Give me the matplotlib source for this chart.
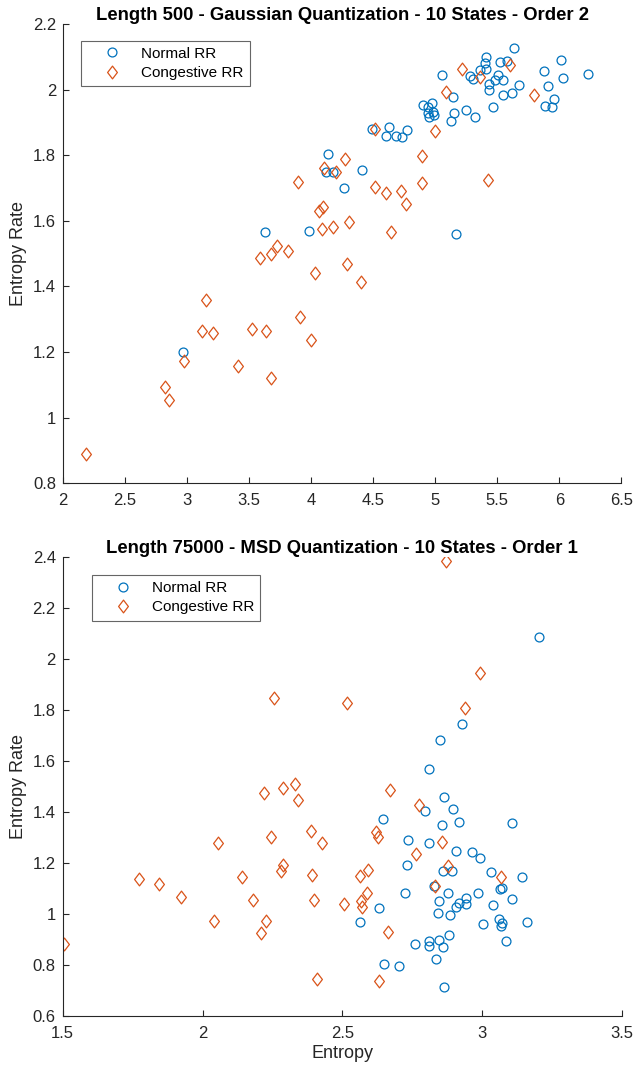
import numpy as np
import matplotlib.pyplot as plt
from matplotlib.path import Path

plt.rcParams['font.family'] = ['Liberation Sans', 'DejaVu Sans']

BLUE = '#0072BD'
ORANGE = '#D95319'

# top panel: Length 500, Gaussian quantization, order 2
top_normal_x = [5.632, 5.406, 5.400, 5.524, 5.578, 5.409, 5.358, 5.052, 5.280, 5.304,
                5.508, 5.481, 5.549, 5.436, 5.433, 5.675, 5.621, 5.549, 5.140, 5.462,
                5.250, 5.148, 5.130, 5.323, 4.901, 4.977, 4.941, 4.979, 4.941, 4.990,
                4.950, 5.874, 6.016, 6.029, 6.230, 5.908, 5.957, 5.882, 5.938, 4.627,
                4.488, 4.606, 4.687, 4.732, 4.772, 4.407, 4.262, 5.164, 4.139, 4.117,
                4.176, 3.631, 3.982, 2.965]
top_normal_y = [2.128, 2.099, 2.080, 2.084, 2.087, 2.063, 2.060, 2.044, 2.042, 2.033,
                2.043, 2.030, 2.030, 2.016, 1.999, 2.013, 1.989, 1.982, 1.978, 1.947,
                1.938, 1.928, 1.904, 1.917, 1.952, 1.958, 1.948, 1.933, 1.928, 1.923,
                1.916, 2.057, 2.090, 2.034, 2.047, 2.010, 1.971, 1.950, 1.946, 1.887,
                1.879, 1.859, 1.857, 1.854, 1.878, 1.755, 1.699, 1.561, 1.803, 1.748,
                1.748, 1.566, 1.568, 1.199]
top_chf_x = [5.218, 5.599, 5.363, 5.084, 5.795, 4.514, 4.995, 4.273, 4.896, 4.200,
             4.103, 5.425, 4.890, 4.514, 4.600, 4.727, 4.767, 4.305, 4.641, 3.891,
             4.095, 4.060, 4.090, 4.176, 3.590, 3.676, 3.725, 3.813, 4.028, 4.289,
             4.404, 3.155, 3.118, 3.206, 3.520, 3.633, 3.907, 3.998, 2.975, 3.410,
             3.679, 2.820, 2.857, 2.183]
top_chf_y = [2.062, 2.074, 2.038, 1.993, 1.983, 1.879, 1.874, 1.788, 1.798, 1.748,
             1.760, 1.725, 1.716, 1.702, 1.685, 1.690, 1.652, 1.596, 1.565, 1.717,
             1.641, 1.629, 1.574, 1.580, 1.486, 1.499, 1.524, 1.507, 1.442, 1.469,
             1.415, 1.358, 1.265, 1.259, 1.270, 1.264, 1.306, 1.238, 1.172, 1.159,
             1.120, 1.094, 1.055, 0.890]

# bottom panel: Length 75000, MSD quantization, order 1
bot_normal_x = [3.202, 2.927, 2.849, 2.809, 2.863, 2.897, 2.796, 2.644, 2.916, 3.106,
                2.855, 2.736, 2.811, 2.905, 2.963, 2.992, 2.731, 2.861, 2.892, 3.031,
                3.141, 2.828, 3.070, 3.063, 2.725, 2.879, 2.986, 3.106, 2.943, 2.846,
                2.917, 2.942, 2.907, 3.039, 2.632, 2.842, 2.885, 2.564, 3.004, 3.059,
                3.072, 3.066, 3.161, 2.882, 2.761, 2.811, 2.811, 2.846, 2.861, 3.086,
                2.834, 2.650, 2.701, 2.863]
bot_normal_y = [2.087, 1.744, 1.684, 1.567, 1.460, 1.413, 1.404, 1.374, 1.362, 1.356,
                1.348, 1.290, 1.277, 1.248, 1.244, 1.218, 1.191, 1.170, 1.170, 1.165,
                1.146, 1.110, 1.101, 1.097, 1.084, 1.084, 1.084, 1.060, 1.063, 1.050,
                1.042, 1.039, 1.029, 1.037, 1.025, 1.005, 0.995, 0.969, 0.961, 0.982,
                0.966, 0.953, 0.969, 0.916, 0.882, 0.893, 0.875, 0.898, 0.872, 0.893,
                0.822, 0.804, 0.795, 0.713]
bot_chf_x = [2.257, 2.518, 2.221, 2.288, 2.331, 2.340, 2.870, 2.993, 2.940, 2.669,
             2.387, 2.427, 2.246, 2.055, 2.287, 2.279, 1.772, 1.845, 2.140, 2.390,
             1.924, 2.179, 2.397, 2.040, 2.228, 2.210, 1.505, 2.408, 2.774, 2.620,
             2.627, 2.856, 2.762, 2.879, 2.592, 2.562, 3.067, 2.832, 2.589, 2.566,
             2.569, 2.506, 2.664, 2.632]
bot_chf_y = [1.846, 1.826, 1.476, 1.493, 1.509, 1.447, 2.386, 1.945, 1.807, 1.485,
             1.324, 1.280, 1.303, 1.280, 1.192, 1.170, 1.136, 1.118, 1.145, 1.153,
             1.065, 1.054, 1.054, 0.973, 0.973, 0.924, 0.881, 0.746, 1.427, 1.320,
             1.301, 1.284, 1.237, 1.188, 1.173, 1.148, 1.144, 1.110, 1.084, 1.052,
             1.029, 1.039, 0.928, 0.736]

# MATLAB-like diamond (wider than matplotlib's thin diamond)
diamond = Path([(0, 1), (0.765, 0), (0, -1), (-0.765, 0), (0, 1)],
               [Path.MOVETO, Path.LINETO, Path.LINETO, Path.LINETO, Path.CLOSEPOLY])

fig = plt.figure(figsize=(6.34, 10.69), dpi=100)

panels = [
    dict(rect=[0.0994, 0.5479, 0.8808, 0.4297],
         title='Length 500 - Gaussian Quantization - 10 States - Order 2',
         nx=top_normal_x, ny=top_normal_y, cx=top_chf_x, cy=top_chf_y,
         xlim=(2, 6.5), ylim=(0.8, 2.2), xticks=np.arange(2, 6.51, 0.5),
         yticks=np.arange(0.8, 2.21, 0.2), xlabel=None, leg=(0.033, 0.9636)),
    dict(rect=[0.0989, 0.0496, 0.8822, 0.4294],
         title='Length 75000 - MSD Quantization - 10 States - Order 1',
         nx=bot_normal_x, ny=bot_normal_y, cx=bot_chf_x, cy=bot_chf_y,
         xlim=(1.5, 3.5), ylim=(0.6, 2.4), xticks=np.arange(1.5, 3.51, 0.5),
         yticks=np.arange(0.6, 2.41, 0.2), xlabel='Entropy', leg=(0.0529, 0.9608)),
]

def fmt(v):
    s = f'{v:.1f}'
    return s[:-2] if s.endswith('.0') else s

for p in panels:
    ax = fig.add_axes(p['rect'])
    ax.plot(p['nx'], p['ny'], linestyle='none', marker='o', markersize=6.4,
            markerfacecolor='none', markeredgecolor=BLUE, markeredgewidth=0.9,
            label='Normal RR')
    ax.plot(p['cx'], p['cy'], linestyle='none', marker=diamond, markersize=9.2,
            markerfacecolor='none', markeredgecolor=ORANGE, markeredgewidth=0.9,
            label='Congestive RR')
    ax.set_xlim(*p['xlim'])
    ax.set_ylim(*p['ylim'])
    ax.set_xticks(p['xticks'])
    ax.set_yticks(p['yticks'])
    ax.set_xticklabels([fmt(v) for v in p['xticks']])
    ax.set_yticklabels([fmt(v) for v in p['yticks']])
    for s in ['top', 'right']:
        ax.spines[s].set_visible(False)
    for s in ['left', 'bottom']:
        ax.spines[s].set_color('#262626')
        ax.spines[s].set_linewidth(0.8)
    ax.tick_params(direction='in', length=4.5, width=0.8, colors='#262626',
                   labelsize=12, labelcolor='#262626')
    ax.tick_params(axis='x', pad=7)
    ax.tick_params(axis='y', pad=5)
    ax.set_title(p['title'], fontsize=13.3, fontweight='bold', pad=2.5)
    ax.set_ylabel('Entropy Rate', fontsize=13, color='#262626', labelpad=4)
    if p['xlabel']:
        ax.set_xlabel(p['xlabel'], fontsize=13, color='#262626', labelpad=3)
    leg = ax.legend(loc='upper left', bbox_to_anchor=p['leg'], borderaxespad=0,
                    fontsize=11, frameon=True, fancybox=False, borderpad=0.4,
                    handletextpad=0.3, handlelength=3.2, labelspacing=0.35)
    leg.get_frame().set_edgecolor('#404040')
    leg.get_frame().set_linewidth(0.8)

fig.savefig('out.png', dpi=100)
